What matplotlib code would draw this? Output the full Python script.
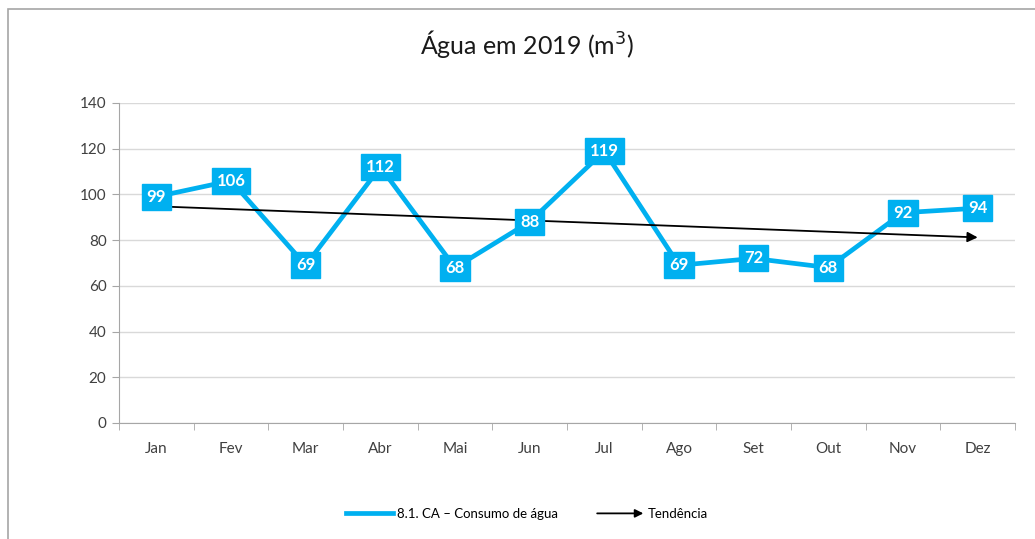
import numpy as np
import matplotlib
matplotlib.use("Agg")
import matplotlib.pyplot as plt
from matplotlib.lines import Line2D
from matplotlib.patches import Rectangle, FancyArrowPatch
from matplotlib.legend_handler import HandlerBase

plt.rcParams['font.family'] = ['Lato', 'DejaVu Sans']

# data
months = ['Jan', 'Fev', 'Mar', 'Abr', 'Mai', 'Jun', 'Jul', 'Ago', 'Set', 'Out', 'Nov', 'Dez']
consumo = [99, 106, 69, 112, 68, 88, 119, 69, 72, 68, 92, 94]
series_label = '8.1. CA – Consumo de água'
trend_label = 'Tendência'

blue = '#00B0F0'
W, H = 1035, 539


class ArrowHandler(HandlerBase):
    # legend key drawn as a small arrow, like the trend line
    def create_artists(self, legend, orig_handle, xdescent, ydescent, width, height, fontsize, trans):
        y = height / 2 - ydescent
        arr = FancyArrowPatch((-xdescent, y), (-xdescent + width, y), arrowstyle='-|>',
                              mutation_scale=12, color='black', lw=1.3, transform=trans,
                              shrinkA=0, shrinkB=0)
        return [arr]


fig = plt.figure(figsize=(W / 100, H / 100), dpi=100)

# chart frame (left and top edges visible)
fig.patches.append(Rectangle((8 / W, -0.05), 1.2, 1 - 9 / H + 0.05, transform=fig.transFigure,
                             fill=False, edgecolor='#a6a6a6', linewidth=1.2))

ax = fig.add_axes([119 / W, 1 - 423 / H, (1015 - 119) / W, (423 - 103) / H])

x = np.arange(len(months))
ax.plot(x, consumo, color=blue, linewidth=3.4, zorder=3, solid_joinstyle='miter')
for xi, v in zip(x, consumo):
    ax.text(xi, v, str(v), ha='center', va='center', color='white', fontsize=12,
            fontweight='bold', zorder=5,
            bbox=dict(boxstyle='square,pad=0.3', facecolor=blue, edgecolor=blue))

# linear trend line
k, b = np.polyfit(x, consumo, 1)
ty = k * x + b
ax.annotate('', xy=(x[-1], ty[-1]), xytext=(x[0], ty[0]), zorder=4,
            arrowprops=dict(arrowstyle='-|>', color='black', lw=1.3, mutation_scale=15,
                            shrinkA=0, shrinkB=0))

ax.set_xlim(-0.5, len(months) - 0.5)
ax.set_ylim(0, 140)
ax.set_yticks(range(0, 141, 20))
ax.set_xticks(x)
ax.set_xticklabels(months)
ax.set_xticks(np.arange(-0.5, len(months), 1), minor=True)
ax.tick_params(axis='x', which='major', length=0, pad=14, labelsize=11, colors='#404040')
ax.tick_params(axis='x', which='minor', length=5, color='#a6a6a6')
ax.tick_params(axis='y', length=5, color='#a6a6a6', labelsize=11, labelcolor='#404040', pad=4)
ax.grid(axis='y', color='#d9d9d9', linewidth=1)
ax.set_axisbelow(True)
for s in ['top', 'right']:
    ax.spines[s].set_visible(False)
for s in ['left', 'bottom']:
    ax.spines[s].set_color('#a6a6a6')

fig.text(527 / W, 1 - 44 / H, 'Água em 2019 (m$^3$)', ha='center', va='center',
         fontsize=18, color='#1a1a1a')

line_handle = Line2D([0], [0], color=blue, linewidth=3.4)
arrow_handle = Line2D([0], [0], color='black')
fig.legend([line_handle, arrow_handle], [series_label, trend_label], loc='center',
           bbox_to_anchor=(527 / W, 1 - 514 / H), ncol=2, frameon=False, fontsize=9.5,
           handlelength=3.5, columnspacing=3, handletextpad=0.3,
           handler_map={arrow_handle: ArrowHandler()})

fig.savefig('out.png', dpi=100)
